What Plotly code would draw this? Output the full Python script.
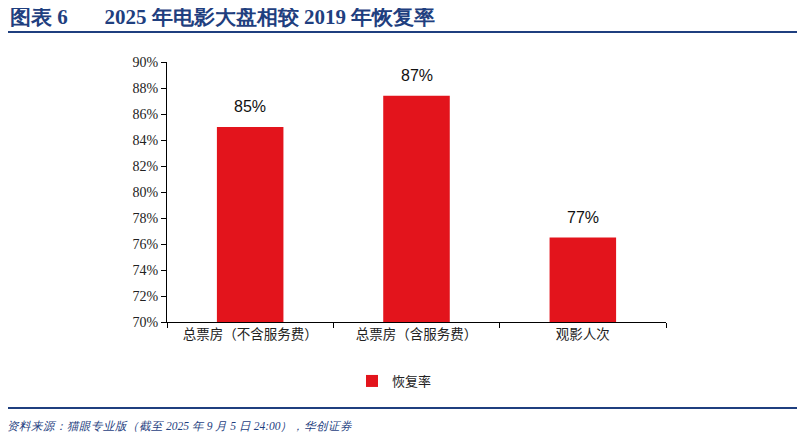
import plotly.graph_objects as go

# categories and recovery rates vs 2019
categories = ["总票房（不含服务费）", "总票房（含服务费）", "观影人次"]
recovery = [85.0, 87.4, 76.5]
bar_labels = ["85%", "87%", "77%"]
y_ticks = [70, 72, 74, 76, 78, 80, 82, 84, 86, 88, 90]
y_tick_text = [str(v) + "%" for v in y_ticks]

title_text = "图表&nbsp;6" + "&nbsp;" * 7 + "2025 年电影大盘相较 2019 年恢复率"
source_text = "资料来源：猫眼专业版（截至 2025 年 9 月 5 日 24:00），华创证券"

blue = "#1F3F7F"
red = "#E3141C"

# page body adds 8px, so plot area 167..666 x 62..322 on screen
L, T, W, H = 159, 54, 499, 260


def px_x(px):
    return (px - 8 - L) / W


def px_y(py):
    return 1 - (py - 8 - T) / H


fig = go.Figure()
fig.add_trace(go.Bar(
    x=categories,
    y=recovery,
    name="恢复率",
    marker=dict(color=red, line=dict(width=0)),
    width=0.4,
))

# value labels above bars
for cat, val, lab in zip(categories, recovery, bar_labels):
    fig.add_annotation(
        x=cat, y=val, text=lab, showarrow=False,
        yanchor="bottom", yshift=10,
        font=dict(family="Liberation Sans", size=16, color="#111111"),
    )

fig.update_layout(
    width=805,
    height=440,
    paper_bgcolor="white",
    plot_bgcolor="white",
    margin=dict(l=L, r=805 - L - W, t=T, b=440 - T - H),
    showlegend=True,
    legend=dict(
        orientation="h",
        x=px_x(352),
        xanchor="left",
        y=px_y(366),
        yanchor="top",
        font=dict(family="Noto Sans CJK SC", size=13, color="#222222"),
        itemwidth=30,
    ),
)

fig.update_yaxes(
    range=[70, 90],
    tickvals=y_ticks,
    ticktext=y_tick_text,
    ticks="outside",
    ticklen=5,
    tickcolor="#000000",
    showline=True,
    linecolor="#000000",
    linewidth=1,
    showgrid=False,
    zeroline=False,
    tickfont=dict(family="Liberation Serif", size=14, color="#222222"),
)
fig.update_xaxes(
    ticks="outside",
    tickson="boundaries",
    ticklen=5,
    tickcolor="#000000",
    showline=True,
    linecolor="#000000",
    linewidth=1,
    showgrid=False,
    tickfont=dict(family="Noto Sans CJK SC", size=13.5, color="#222222"),
)

# title, rules and source note
fig.add_annotation(
    text="<b>" + title_text + "</b>",
    xref="paper", yref="paper", x=px_x(8), y=px_y(17),
    xanchor="left", yanchor="middle", showarrow=False,
    font=dict(family="Liberation Serif", size=21, color=blue),
)
fig.add_shape(
    type="line", xref="paper", yref="paper",
    x0=px_x(5), x1=px_x(800), y0=px_y(32), y1=px_y(32),
    line=dict(color=blue, width=2),
)
fig.add_shape(
    type="line", xref="paper", yref="paper",
    x0=px_x(5), x1=px_x(800), y0=px_y(408), y1=px_y(408),
    line=dict(color=blue, width=2),
)
fig.add_annotation(
    text="<i>" + source_text + "</i>",
    xref="paper", yref="paper", x=px_x(5), y=px_y(426),
    xanchor="left", yanchor="middle", showarrow=False,
    font=dict(family="Liberation Serif", size=11.5, color=blue),
)

fig.write_html("out.html")
